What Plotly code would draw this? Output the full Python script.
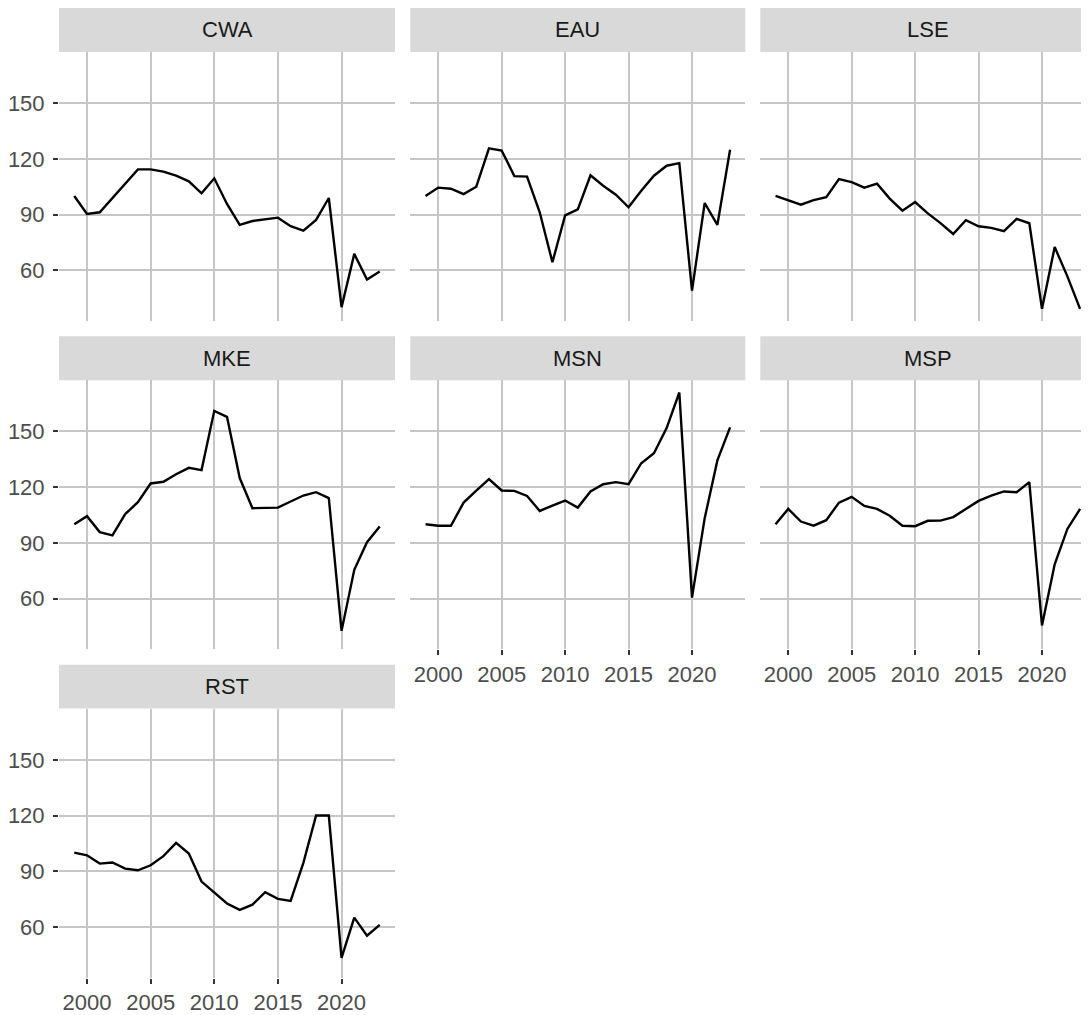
import plotly.graph_objects as go

years = list(range(1999, 2024))
airports = ["CWA", "EAU", "LSE", "MKE", "MSN", "MSP", "RST"]

cwa = [100, 90.3, 91.2, 99, 107, 114.3, 114.3, 113.1, 110.9, 107.9, 101.4, 109.5, 95.7, 84.4,
       86.5, 87.6, 88.3, 83.7, 81.3, 87.1, 98.9, 40.1, 68.8, 55.0, 59.3]
eau = [100, 104.5, 103.9, 101.0, 105.0, 125.6, 124.5, 110.7, 110.4, 91.2, 64.3, 89.5, 92.8, 111.1,
       105.5, 100.7, 93.9, 102.8, 110.9, 116.3, 117.7, 49.0, 96.2, 84.4, 124.9]
lse = [100, 97.8, 95.3, 97.8, 99.3, 109.1, 107.5, 104.5, 106.6, 98.6, 92.1, 96.7, 90.6, 85.4,
       79.5, 86.9, 83.7, 82.8, 81.1, 87.6, 85.3, 39.2, 72.5, 56.7, 39.2]
mke = [100, 104.4, 95.8, 94.0, 105.5, 111.9, 122.0, 122.9, 127.0, 130.4, 129.2, 161.1, 157.9, 124.9,
       108.7, 109.0, 109.0, 112.3, 115.5, 117.3, 114.1, 42.6, 75.5, 90.4, 98.8]
msn = [100, 99.2, 99.2, 111.7, 118.2, 124.3, 118.2, 118.0, 115.3, 107.2, 110.1, 112.8, 109.0, 117.7,
       121.6, 122.7, 121.6, 132.9, 138.3, 151.8, 171.0, 60.5, 103.3, 134.4, 152.2]
msp = [100, 108.3, 101.5, 99.3, 102.2, 111.7, 114.8, 109.9, 108.3, 104.6, 99.2, 99.0, 101.9, 102.0,
       103.9, 108.2, 112.6, 115.5, 117.7, 117.3, 122.7, 45.5, 78.5, 97.5, 108.3]
rst = [100, 98.6, 94.1, 94.7, 91.4, 90.5, 93.2, 98.1, 105.3, 99.5, 84.4, 78.7, 72.6, 69.2,
       72.0, 78.7, 75.1, 74.0, 94.5, 120.0, 120.0, 43.3, 65.0, 55.3, 61.1]

series = [cwa, eau, lse, mke, msn, msp, rst]

y_ticks = [60, 90, 120, 150]
x_ticks = [2000, 2005, 2010, 2015, 2020]

# page has an 8px body margin; the figure is drawn at (8, 8)
OFF = 8
W, H = 1089 - OFF, 1015 - OFF
col_ref = [(59, 395), (410.3, 745.3), (760.3, 1095.3)]
row_ref = [(52, 321.7), (381, 650.7), (710, 979.7)]
col_px = [(a - OFF, b - OFF) for a, b in col_ref]
row_px = [(a - OFF, b - OFF) for a, b in row_ref]
strip_h = 44

allv = [v for s in series for v in s]
vmin, vmax = min(allv), max(allv)
span = vmax - vmin
yr = [vmin - 0.05 * span, vmax + 0.05 * span]
xspan = years[-1] - years[0]
xr = [years[0] - 0.05 * xspan, years[-1] + 0.05 * xspan]

grid_col = "#C6C6C6"
font_family = "Liberation Sans, Arial, sans-serif"
tick_font = dict(family=font_family, size=22, color="#4D4D4D")

fig = go.Figure()
shapes = []
annotations = []
layout = {}

for i, (name, vals) in enumerate(zip(airports, series)):
    r, c = divmod(i, 3)
    x0, x1 = col_px[c]
    y0, y1 = row_px[r]
    x1c = min(x1, W)
    xr_i = [xr[0], xr[0] + (xr[1] - xr[0]) * (x1c - x0) / (x1 - x0)]
    n = i + 1
    xa = "x" if n == 1 else f"x{n}"
    ya = "y" if n == 1 else f"y{n}"
    fig.add_trace(go.Scatter(x=years, y=vals, mode="lines",
                             line=dict(color="black", width=2.4),
                             xaxis=xa, yaxis=ya, showlegend=False))
    show_x = (r == 2) or (r == 1 and c > 0)
    show_y = c == 0
    layout[f"xaxis{n}"] = dict(
        domain=[x0 / W, x1c / W], range=xr_i, anchor=ya,
        tickvals=x_ticks, showticklabels=show_x,
        ticks="outside" if show_x else "", ticklen=5, tickwidth=2, tickcolor="#333333",
        tickfont=tick_font, showgrid=True, gridcolor=grid_col, gridwidth=2.2,
        zeroline=False, showline=False, fixedrange=True,
    )
    layout[f"yaxis{n}"] = dict(
        domain=[1 - y1 / H, 1 - y0 / H], range=yr, anchor=xa,
        tickvals=y_ticks, showticklabels=show_y,
        ticks="outside" if show_y else "", ticklen=5, tickwidth=2, tickcolor="#333333",
        tickfont=tick_font, showgrid=True, gridcolor=grid_col, gridwidth=2.2,
        zeroline=False, showline=False, fixedrange=True, ticklabelstandoff=4,
    )
    shapes.append(dict(type="rect", xref="paper", yref="paper",
                       x0=x0 / W, x1=x1c / W, y0=1 - y0 / H, y1=1 - (y0 - strip_h) / H,
                       fillcolor="#D9D9D9", line=dict(width=0), layer="below"))
    annotations.append(dict(text=name, xref="paper", yref="paper",
                            x=(x0 + x1) / 2 / W, y=1 - (y0 - strip_h / 2) / H,
                            xanchor="center", yanchor="middle", showarrow=False,
                            font=dict(family=font_family, size=22, color="#1A1A1A")))

fig.update_layout(
    width=W, height=H, margin=dict(l=0, r=0, t=0, b=0),
    paper_bgcolor="white", plot_bgcolor="white",
    shapes=shapes, annotations=annotations, showlegend=False,
    **layout,
)

fig.write_html("out.html")
